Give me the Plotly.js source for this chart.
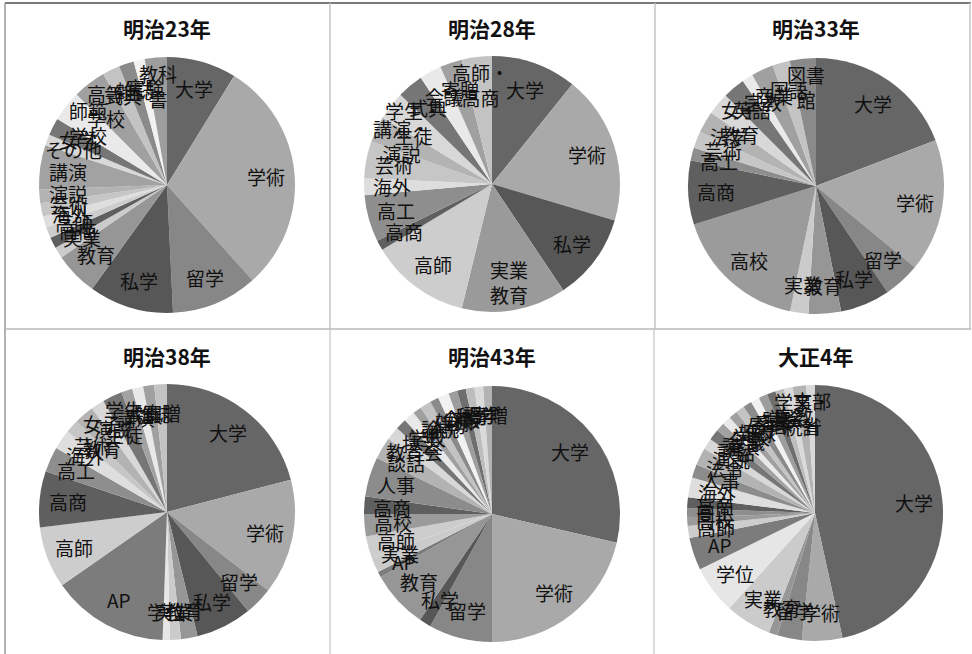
<!DOCTYPE html>
<html>
<head>
<meta charset="utf-8">
<script src="https://cdn.plot.ly/plotly-3.0.1.min.js"></script>
<style>
  html, body { margin: 0; padding: 0; background: #fff; }
  #chart { width: 972px; height: 654px; }
</style>
</head>
<body>
<div id="chart"></div>
<script>
// Share of articles by subject (%), one pie per year, slices clockwise from 12 o'clock.
const years = ['明治23年', '明治28年', '明治33年', '明治38年', '明治43年', '大正4年'];

const labelsM23 = ['大学', '学術', '留学', '私学', '教育', '実業', '高商', '高師', '海外', '芸術', '演説', '講演',
  'その他', '女学', '師範<br>学校', '高等<br>学校', '式典', '雑誌', '実験', '教科<br>書'];
const valuesM23 = [8.8, 29.6, 10.9, 10.7, 5.5, 1.4, 1.4, 1.4, 1.4, 1.7, 1.7, 5.6,
  1.4, 2.2, 3.9, 4.2, 2.2, 1.9, 1.4, 2.8];

const labelsM28 = ['大学', '学術', '私学', '実業<br>教育', '高師', '高商', '高工', '海外', '芸術', '講演・<br>演説',
  '学生・<br>生徒', '式典', '会議', '寄贈', '高師・<br>高商'];
const valuesM28 = [10.8, 18.8, 11.0, 13.2, 12.6, 1.3, 5.9, 2.1, 4.7, 3.3,
  3.6, 3.3, 2.8, 2.8, 3.8];

const labelsM33 = ['大学', '学術', '留学', '私学', '教育', '実業', '高校', '高商', '高工', '芸術', '法学',
  '女子<br>教育', '英語', '宗教', '商業', '国語', '図書<br>館'];
const valuesM33 = [19.2, 16.8, 4.6, 6.3, 4.1, 2.3, 16.9, 8.1, 1.6, 2.1, 2.8,
  2.8, 2.8, 1.4, 2.8, 2.2, 3.3];

const labelsM38 = ['大学', '学術', '留学', '私学', '教育', '実業', '学位', 'AP', '高師', '高商', '高工', '海外',
  '芸術', '女子<br>教育', '演説', '学生<br>生徒', '講演', '式典', '雑誌', '寄贈'];
const valuesM38 = [21.0, 14.6, 3.6, 7.1, 2.1, 1.4, 0.9, 14.8, 7.8, 7.1, 3.2, 2.5,
  1.7, 2.5, 1.7, 2.5, 1.4, 1.4, 1.4, 1.6];

const labelsM43 = ['大学', '学術', '留学', '私学', '教育', 'AP', '実業', '高師', '高校', '高商', '人事', '談話',
  '教育会', '技芸', '学校', '他', '論説', '人物', '雑録', '会報', '文学', '科学', '語学', '寄贈'];
const valuesM43 = [28.6, 21.4, 8.0, 1.5, 7.3, 0.7, 1.9, 2.8, 2.8, 2.2, 5.0, 2.8,
  1.7, 1.4, 1.4, 1.1, 1.4, 1.1, 1.4, 1.1, 1.1, 1.1, 1.1, 1.1];

const labelsT4 = ['大学', '学術', '留学', '教育', '実業', '学位', 'AP', '高師', '高校', '高工', '高商', '海外',
  '人事', '法令', '演説', '談話', '講演', '会議', '学校', '雑録', '女子', '寄宿', '卒業', '試験', '学会', '宗教',
  '学事・<br>統計', '文部<br>省'];
const valuesT4 = [46.5, 5.1, 3.1, 1.1, 5.8, 6.1, 4.1, 1.5, 1.1, 1.1, 1.4, 2.5,
  1.7, 2.2, 1.4, 1.4, 1.1, 1.1, 1.1, 1.1, 1.1, 1.1, 1.1, 1.1, 1.1, 1.1,
  1.7, 1.1];

const series = [
  [labelsM23, valuesM23], [labelsM28, valuesM28], [labelsM33, valuesM33],
  [labelsM38, valuesM38], [labelsM43, valuesM43], [labelsT4, valuesT4]
];

// Grey shades: fixed ones for recurring subjects, a cycle for the rest.
const subjectGrey = {
  '大学': '#666666', '学術': '#a9a9a9', '留学': '#878787', '私学': '#575757', '教育': '#969696',
  '実業': '#cbcbcb', '実業<br>教育': '#9a9a9a', '高校': '#9b9b9b', '高師': '#cdcdcd', '高商': '#5f5f5f',
  '高工': '#8e8e8e', 'AP': '#7c7c7c', '海外': '#dedede', '芸術': '#c6c6c6', '学位': '#e6e6e6',
  '講演': '#a2a2a2', '人事': '#8c8c8c'
};
const greyCycle = ['#b3b3b3', '#d8d8d8', '#767676', '#e9e9e9', '#a0a0a0', '#c3c3c3',
  '#8a8a8a', '#f1f1f1', '#9d9d9d', '#6e6e6e', '#bdbdbd', '#dadada'];

// Page geometry (px): pie centres and radius, 3 columns x 2 rows.
const W = 972, H = 654, R = 128;
const LABEL_RADIUS = 0.78;   // slice labels sit at this fraction of the radius
const centres = [[167, 185], [492, 184], [816, 186], [167, 512], [492, 514], [815, 513]];
const fx = px => px / W;
const fy = py => 1 - py / H;

const traces = series.map(([labels, values], i) => {
  const [cx, cy] = centres[i];
  let k = 0;
  const colors = labels.map(l => subjectGrey[l] || greyCycle[(k++) % greyCycle.length]);
  return {
    type: 'pie',
    labels: labels,
    values: values,
    textinfo: 'none',
    sort: false,
    direction: 'clockwise',
    rotation: 0,
    marker: { colors: colors, line: { width: 0 } },
    domain: { x: [fx(cx - R), fx(cx + R)], y: [fy(cy + R), fy(cy - R)] },
    showlegend: false,
    hoverinfo: 'label+percent'
  };
});

// Slice labels: placed on each slice's bisector, clockwise from 12 o'clock like the pie.
const sliceLabels = [];
series.forEach(([labels, values], i) => {
  const [cx, cy] = centres[i];
  const total = values.reduce((a, b) => a + b, 0);
  let cum = 0;
  values.forEach((v, j) => {
    const mid = 2 * Math.PI * (cum + v / 2) / total;
    cum += v;
    sliceLabels.push({
      text: labels[j],
      xref: 'paper', yref: 'paper',
      x: fx(cx + LABEL_RADIUS * R * Math.sin(mid)),
      y: fy(cy - LABEL_RADIUS * R * Math.cos(mid)),
      xanchor: 'center', yanchor: 'middle',
      showarrow: false,
      font: { family: 'Noto Sans CJK JP', size: 19, color: '#111' }
    });
  });
});

const titles = years.map((t, i) => ({
  text: t,
  xref: 'paper', yref: 'paper',
  x: fx(centres[i][0]), y: fy(i < 3 ? 28 : 356),
  xanchor: 'center', yanchor: 'middle',
  showarrow: false,
  font: { family: 'Noto Sans CJK JP', size: 21, color: '#111', weight: 'bold' }
}));

const line = (x0, y0, x1, y1, color, width) => ({
  type: 'line', xref: 'paper', yref: 'paper',
  x0: fx(x0), y0: fy(y0), x1: fx(x1), y1: fy(y1),
  line: { color: color, width: width }
});

const shapes = [
  line(5, 3, 971, 3, '#7a7a7a', 2),
  line(5, 3, 5, 654, '#9a9a9a', 1.5),
  line(330, 3, 330, 329, '#c4c4c4', 1.5),
  line(655, 3, 655, 329, '#c4c4c4', 1.5),
  line(970, 3, 970, 329, '#c4c4c4', 1.5),
  line(5, 329, 971, 329, '#b8b8b8', 1.5),
  line(330, 329, 330, 654, '#cfcfcf', 1.5),
  line(654, 329, 654, 654, '#cfcfcf', 1.5)
];

const layout = {
  width: W, height: H,
  margin: { l: 0, r: 0, t: 0, b: 0 },
  paper_bgcolor: '#ffffff',
  annotations: sliceLabels.concat(titles),
  shapes: shapes
};

Plotly.newPlot('chart', traces, layout, { displayModeBar: false, staticPlot: true });
</script>
</body>
</html>
